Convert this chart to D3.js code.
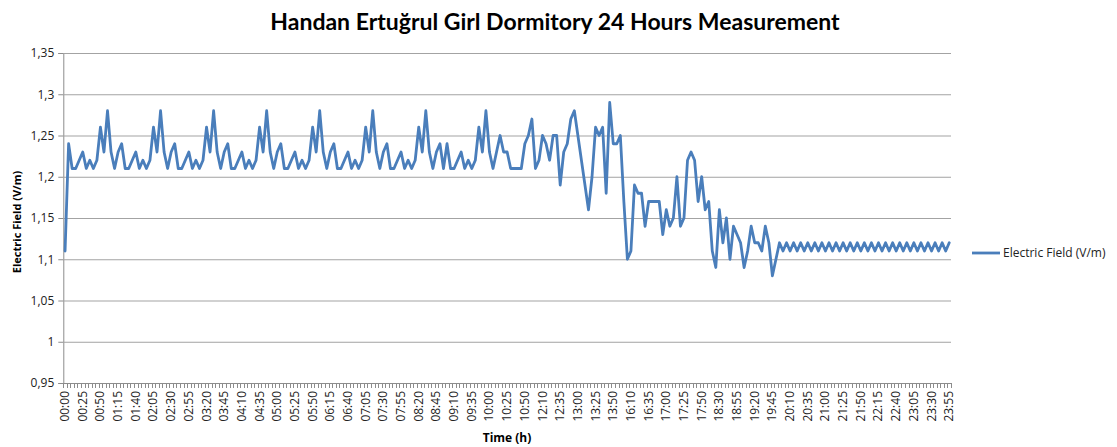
<!DOCTYPE html>
<html><head><meta charset="utf-8">
<script src="https://cdn.jsdelivr.net/npm/d3@7"></script>
<style>body{margin:0;background:#fff;} svg{display:block;font-family:"Open Sans",sans-serif;}</style>
</head><body><svg id="c" width="1117" height="447"></svg>
<script>
const title = "Handan Ertuğrul Girl Dormitory 24 Hours Measurement";
const seriesName = "Electric Field (V/m)";
const yTitle = "Electric Field (V/m)";
const xTitle = "Time (h)";
const yTickValues = [0.95, 1, 1.05, 1.1, 1.15, 1.2, 1.25, 1.3, 1.35];
const yTickLabels = ["0,95", "1", "1,05", "1,1", "1,15", "1,2", "1,25", "1,3", "1,35"];
const xLabelStep = 5;

const times = [
"00:00","00:05","00:10","00:15","00:20","00:25","00:30","00:35","00:40","00:45","00:50","00:55",
"01:00","01:05","01:10","01:15","01:20","01:25","01:30","01:35","01:40","01:45","01:50","01:55",
"02:00","02:05","02:10","02:15","02:20","02:25","02:30","02:35","02:40","02:45","02:50","02:55",
"03:00","03:05","03:10","03:15","03:20","03:25","03:30","03:35","03:40","03:45","03:50","03:55",
"04:00","04:05","04:10","04:15","04:20","04:25","04:30","04:35","04:40","04:45","04:50","04:55",
"05:00","05:05","05:10","05:15","05:20","05:25","05:30","05:35","05:40","05:45","05:50","05:55",
"06:00","06:05","06:10","06:15","06:20","06:25","06:30","06:35","06:40","06:45","06:50","06:55",
"07:00","07:05","07:10","07:15","07:20","07:25","07:30","07:35","07:40","07:45","07:50","07:55",
"08:00","08:05","08:10","08:15","08:20","08:25","08:30","08:35","08:40","08:45","08:50","08:55",
"09:00","09:05","09:10","09:15","09:20","09:25","09:30","09:35","09:40","09:45","09:50","09:55",
"10:00","10:05","10:10","10:15","10:20","10:25","10:30","10:35","10:40","10:45","10:50",
"11:50","11:55","12:00","12:05",
"12:10","12:15","12:20","12:25","12:30","12:35","12:40","12:45","12:50","12:55",
"13:00","13:05","13:10","13:15","13:20","13:25","13:30","13:35","13:40","13:45","13:50",
"13:55","14:00","16:00","16:05",
"16:10","16:15","16:20","16:25","16:30","16:35","16:40","16:45","16:50","16:55",
"17:00","17:05","17:10","17:15","17:20","17:25","17:30","17:35","17:40","17:45","17:50",
"17:55","18:00","18:20","18:25",
"18:30","18:35","18:40","18:45","18:50","18:55",
"19:00","19:05","19:10","19:15","19:20","19:25","19:30","19:35","19:40","19:45","19:50","19:55",
"20:00","20:05","20:10","20:15","20:20","20:25","20:30","20:35","20:40","20:45","20:50","20:55",
"21:00","21:05","21:10","21:15","21:20","21:25","21:30","21:35","21:40","21:45","21:50","21:55",
"22:00","22:05","22:10","22:15","22:20","22:25","22:30","22:35","22:40","22:45","22:50","22:55",
"23:00","23:05","23:10","23:15","23:20","23:25","23:30","23:35","23:40","23:45","23:50","23:55"
];

const values = [
1.11, 1.24,
1.21,1.21,1.22,1.23,1.21,1.22,1.21,1.22,1.26,1.23,1.28,1.23,1.21,1.23,1.24,
1.21,1.21,1.22,1.23,1.21,1.22,1.21,1.22,1.26,1.23,1.28,1.23,1.21,1.23,1.24,
1.21,1.21,1.22,1.23,1.21,1.22,1.21,1.22,1.26,1.23,1.28,1.23,1.21,1.23,1.24,
1.21,1.21,1.22,1.23,1.21,1.22,1.21,1.22,1.26,1.23,1.28,1.23,1.21,1.23,1.24,
1.21,1.21,1.22,1.23,1.21,1.22,1.21,1.22,1.26,1.23,1.28,1.23,1.21,1.23,1.24,
1.21,1.21,1.22,1.23,1.21,1.22,1.21,1.22,1.26,1.23,1.28,1.23,1.21,1.23,1.24,
1.21,1.21,1.22,1.23,1.21,1.22,1.21,1.22,1.26,1.23,1.28,1.23,1.21,1.23,1.24,
1.21, 1.24,
1.21,1.21,1.22,1.23,1.21,1.22,1.21,1.22,1.26,1.23,1.28,
1.23,1.21,1.23,1.25,1.23,1.23,1.21,1.21,1.21,1.21,
1.24,1.25,1.27,1.21,1.22,1.25,1.24,1.22,1.25,1.25,1.19,1.23,1.24,1.27,
1.28,1.25,1.22,1.19,1.16,1.20,1.26,1.25,1.26,1.18,1.29,1.24,1.24,1.25,1.17,1.10,
1.11,1.19,1.18,1.18,1.14,1.17,1.17,1.17,1.17,1.13,1.16,1.14,1.15,1.20,1.14,1.15,
1.22,1.23,1.22,1.17,1.20,1.16,1.17,1.11,1.09,1.16,1.12,1.15,1.10,1.14,1.13,1.12,
1.09,1.11,1.14,1.12,1.12,1.11,1.14,1.12,1.08,1.10,
1.12,1.11,1.12,1.11,1.12,1.11,1.12,1.11,1.12,1.11,
1.12,1.11,1.12,1.11,1.12,1.11,1.12,1.11,1.12,1.11,
1.12,1.11,1.12,1.11,1.12,1.11,1.12,1.11,1.12,1.11,
1.12,1.11,1.12,1.11,1.12,1.11,1.12,1.11,1.12,1.11,
1.12,1.11,1.12,1.11,1.12,1.11,1.12,1.11,1.12
];

const svg = d3.select("#c");
const plot = {left: 63.3, right: 951, top: 53, bottom: 383};
const gridColor = "#a3a3a3";
const axisColor = "#8c8c8c";
const lineColor = "#4a7ebb";

const data = values.map((v, i) => ({t: times[i], v, i}));

const x = d3.scaleBand().domain(data.map(d => d.i)).range([plot.left, plot.right]).paddingInner(0).paddingOuter(0);
const bw = x.bandwidth();
const xc = i => x(i) + bw / 2;
const y = d3.scaleLinear().domain([0.95, 1.35]).range([plot.bottom, plot.top]);

// horizontal gridlines + y axis
const yAxis = d3.axisLeft(y).tickValues(yTickValues)
  .tickFormat((d, k) => yTickLabels[k]).tickSize(5).tickPadding(4);
const gy = svg.append("g").attr("transform", `translate(${plot.left},0)`).call(yAxis);
gy.select(".domain").attr("stroke", axisColor);
gy.selectAll(".tick line").attr("stroke", axisColor);
gy.selectAll(".tick text").attr("font-size", 12).attr("fill", "#222").attr("font-family", "'Open Sans',sans-serif");
gy.selectAll(".tick").append("line")
  .attr("x1", 0).attr("x2", plot.right - plot.left)
  .attr("stroke", gridColor).attr("stroke-width", 1);

// x axis line
svg.append("line").attr("x1", plot.left).attr("x2", plot.right)
  .attr("y1", plot.bottom + 0.5).attr("y2", plot.bottom + 0.5).attr("stroke", axisColor);
// minor tick marks at category boundaries
const bounds = d3.range(values.length + 1);
svg.append("g").selectAll("line").data(bounds).join("line")
  .attr("x1", k => Math.round(plot.left + k * bw) + 0.5)
  .attr("x2", k => Math.round(plot.left + k * bw) + 0.5)
  .attr("y1", plot.bottom).attr("y2", plot.bottom + 5)
  .attr("stroke", axisColor).attr("stroke-width", 1);

// x tick labels
const labelData = data.filter(d => d.i % xLabelStep === 0);
svg.append("g").selectAll("text").data(labelData).join("text")
  .attr("transform", d => `translate(${xc(d.i) + 4},${plot.bottom + 8}) rotate(-90)`)
  .attr("text-anchor", "end")
  .attr("font-size", 12).attr("fill", "#222")
  .text(d => d.t);

// the line
const line = d3.line().x(d => xc(d.i)).y(d => y(d.v));
svg.append("path").datum(data)
  .attr("d", line).attr("fill", "none")
  .attr("stroke", lineColor).attr("stroke-width", 2.8)
  .attr("stroke-linejoin", "round").attr("stroke-linecap", "round");

// title
svg.append("text").attr("x", 555).attr("y", 30).attr("text-anchor", "middle")
  .attr("font-family", "Lato,sans-serif").attr("font-weight", "bold").attr("font-size", 23)
  .attr("fill", "#000").text(title);

// axis titles
svg.append("text").attr("transform", `translate(21,${(plot.top + plot.bottom) / 2 + 4}) rotate(-90)`)
  .attr("text-anchor", "middle").attr("font-weight", "bold").attr("font-size", 11)
  .attr("fill", "#000").text(yTitle);
svg.append("text").attr("x", 507).attr("y", 442).attr("text-anchor", "middle")
  .attr("font-weight", "bold").attr("font-size", 12).attr("fill", "#000").text(xTitle);

// legend
const lg = svg.append("g").attr("transform", "translate(972,253)");
lg.append("line").attr("x1", 0).attr("x2", 28).attr("y1", 0).attr("y2", 0)
  .attr("stroke", lineColor).attr("stroke-width", 2.8);
lg.append("text").attr("x", 31).attr("y", 4).attr("font-size", 12).attr("fill", "#222").text(seriesName);
</script>
</body></html>
